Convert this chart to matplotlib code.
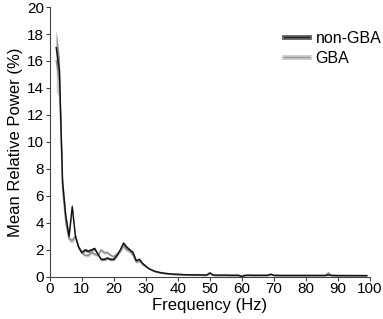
import numpy as np
import matplotlib.pyplot as plt
from matplotlib.lines import Line2D

plt.rcParams['font.family'] = ['Liberation Sans', 'DejaVu Sans']

# -- Data --
freq = np.arange(2, 100)

non_gba = [17.0, 15.3, 7.0, 4.5, 3.0, 5.2, 3.0, 2.2, 1.8, 2.0, 1.9, 2.0, 2.1, 1.7,
           1.3, 1.3, 1.4, 1.3, 1.3, 1.6, 2.0, 2.5, 2.2, 2.0, 1.8, 1.2, 1.3, 1.0,
           0.8, 0.6, 0.5, 0.4, 0.35, 0.3, 0.27, 0.24, 0.22, 0.2, 0.19, 0.18, 0.17,
           0.16, 0.16, 0.15, 0.15, 0.15, 0.14, 0.14, 0.3, 0.14, 0.13, 0.13, 0.13,
           0.13, 0.12, 0.12, 0.12, 0.12, 0.02, 0.12, 0.13, 0.12, 0.12, 0.12, 0.12,
           0.12, 0.12, 0.2, 0.12, 0.12, 0.11, 0.11, 0.11, 0.11, 0.11, 0.11, 0.11,
           0.11, 0.11, 0.11, 0.11, 0.11, 0.11, 0.11, 0.11, 0.15, 0.11, 0.11, 0.1,
           0.1, 0.1, 0.1, 0.1, 0.1, 0.1, 0.1, 0.1, 0.1]
non_gba_sem = [1.2, 1.0, 0.4, 0.25, 0.2, 0.3, 0.2, 0.15, 0.12, 0.12, 0.12, 0.12,
               0.12, 0.1, 0.1, 0.1, 0.1, 0.1, 0.1, 0.1, 0.12, 0.15, 0.12, 0.12,
               0.1, 0.1, 0.1] + [0.05] * 71

gba = [16.0, 14.5, 6.5, 4.0, 2.8, 2.7, 3.0, 2.2, 1.8, 1.6, 1.6, 1.8, 1.7, 1.6,
       2.0, 1.8, 1.8, 1.6, 1.5, 1.7, 1.9, 2.3, 2.0, 1.9, 1.6, 1.1, 1.2, 0.9,
       0.75, 0.6, 0.48, 0.4, 0.33, 0.28, 0.25, 0.22, 0.2, 0.19, 0.18, 0.17,
       0.16, 0.15, 0.15, 0.14, 0.14, 0.14, 0.13, 0.13, 0.25, 0.13, 0.12, 0.12,
       0.12, 0.12, 0.12, 0.11, 0.11, 0.11, 0.1, 0.11, 0.11, 0.11, 0.11, 0.11,
       0.11, 0.11, 0.11, 0.18, 0.11, 0.1, 0.1, 0.1, 0.1, 0.1, 0.1, 0.1, 0.1,
       0.1, 0.1, 0.1, 0.1, 0.1, 0.1, 0.1, 0.1, 0.3, 0.1, 0.1, 0.1, 0.1, 0.1,
       0.1, 0.1, 0.09, 0.09, 0.09, 0.09, 0.09]
gba_sem = [2.3, 1.2, 0.4, 0.25, 0.2, 0.2, 0.2, 0.15, 0.12, 0.12, 0.12, 0.12,
           0.12, 0.1, 0.12, 0.12, 0.1, 0.1, 0.1, 0.1, 0.12, 0.15, 0.12, 0.12,
           0.1, 0.1, 0.1] + [0.05] * 71

# -- Plot --
fig, ax = plt.subplots(figsize=(3.83, 3.19), dpi=100)
fig.subplots_adjust(left=0.13, right=0.966, bottom=0.132, top=0.978)

non_gba = np.array(non_gba)
gba = np.array(gba)
non_gba_sem = np.array(non_gba_sem)
gba_sem = np.array(gba_sem)

ax.fill_between(freq, gba - gba_sem, gba + gba_sem, color='#cccccc', lw=0)
ax.plot(freq, gba, color='#8c8c8c', lw=1.0)
ax.fill_between(freq, non_gba - non_gba_sem, non_gba + non_gba_sem, color='#888888', lw=0)
ax.plot(freq, non_gba, color='#111111', lw=1.0)

ax.set_xlim(0, 100)
ax.set_ylim(0, 20)
ax.set_xticks(range(0, 101, 10))
ax.set_yticks(range(0, 21, 2))
ax.set_xlabel('Frequency (Hz)', fontsize=12, labelpad=1)
ax.set_ylabel('Mean Relative Power (%)', fontsize=12, labelpad=3)
ax.tick_params(labelsize=11, length=3, color='#444444', pad=1)

for s in ['top', 'right']:
    ax.spines[s].set_visible(False)
for s in ['left', 'bottom']:
    ax.spines[s].set_color('#444444')

h1 = (Line2D([], [], color='#666666', lw=3.5), Line2D([], [], color='#222222', lw=1))
h2 = (Line2D([], [], color='#cccccc', lw=3.5), Line2D([], [], color='#999999', lw=1))
ax.legend([h1, h2], ['non-GBA', 'GBA'], loc='upper right', bbox_to_anchor=(1.08, 0.965),
          frameon=False, fontsize=11.5, handlelength=1.6, handletextpad=0.4, labelspacing=0.3)

fig.savefig('out.png', dpi=100)
